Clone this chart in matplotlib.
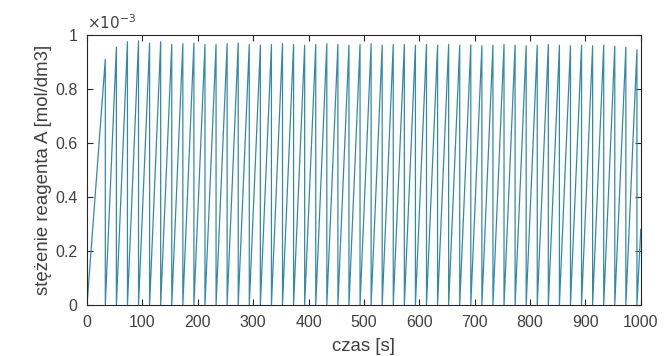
import matplotlib
matplotlib.use("Agg")
import matplotlib.pyplot as plt
import numpy as np
from matplotlib.ticker import FuncFormatter

plt.rcParams['font.family'] = ['Liberation Sans', 'DejaVu Sans']

# Time of each sharp drop (end of each ramp) [s]
drop_times = [33, 53, 73, 93, 113, 133, 153, 173, 193, 213, 233, 253, 273, 293,
              313, 333, 353, 373, 393, 413, 433, 453, 473, 493, 513, 533, 553,
              573, 593, 613, 633, 653, 673, 693, 713, 733, 753, 773, 793, 813,
              833, 853, 873, 893, 913, 933, 953, 973, 993]
# Peak concentration reached just before each drop [x 1e-3 mol/dm3]
peak_values = [0.91, 0.955, 0.975, 0.978, 0.97, 0.975, 0.965, 0.968, 0.97, 0.965,
               0.965, 0.968, 0.97, 0.965, 0.962, 0.965, 0.968, 0.965, 0.962, 0.965,
               0.968, 0.965, 0.962, 0.965, 0.968, 0.962, 0.965, 0.965, 0.962, 0.965,
               0.962, 0.965, 0.962, 0.963, 0.96, 0.962, 0.965, 0.962, 0.96, 0.962,
               0.965, 0.962, 0.96, 0.962, 0.96, 0.962, 0.958, 0.955, 0.945]
end_time = 1000
end_value = 0.28
scale = 1e-3

# Build the sawtooth trace: linear rise from 0, vertical drop back to 0
t = [0.0]
c = [0.0]
for tt, pv in zip(drop_times, peak_values):
    t += [tt, tt]
    c += [pv * scale, 0.0]
t.append(end_time)
c.append(end_value * scale)

fig = plt.figure(figsize=(6.71, 3.56), dpi=100)
ax = fig.add_axes([0.1297, 0.1433, 0.8253, 0.7584])
ax.plot(t, c, color="#3489a8", linewidth=0.9)

ax.set_xlim(0, 1000)
ax.set_ylim(0, 1e-3)
ax.set_xticks(np.arange(0, 1001, 100))
ax.set_yticks(np.arange(0, 1.01e-3, 0.2e-3))
ax.yaxis.set_major_formatter(FuncFormatter(lambda v, p: "%g" % round(v / scale, 6)))

axc = "#262626"
for s in ax.spines.values():
    s.set_color(axc)
    s.set_linewidth(0.8)
ax.tick_params(direction="in", length=4, width=0.8, colors=axc, labelcolor="#404040",
               labelsize=11.5, top=True, right=True)
ax.tick_params(axis="x", pad=7)
ax.tick_params(axis="y", pad=7)
ax.set_xlabel("czas [s]", fontsize=13.4, color="#404040", labelpad=6)
ax.set_ylabel("stężenie reagenta A [mol/dm3]", fontsize=13.4, color="#404040", labelpad=2)
ax.text(0.0, 1.012, r"$\times10^{-3}$", transform=ax.transAxes, fontsize=11,
        color="#404040", ha="left", va="bottom")

fig.savefig("out.png", dpi=100)
